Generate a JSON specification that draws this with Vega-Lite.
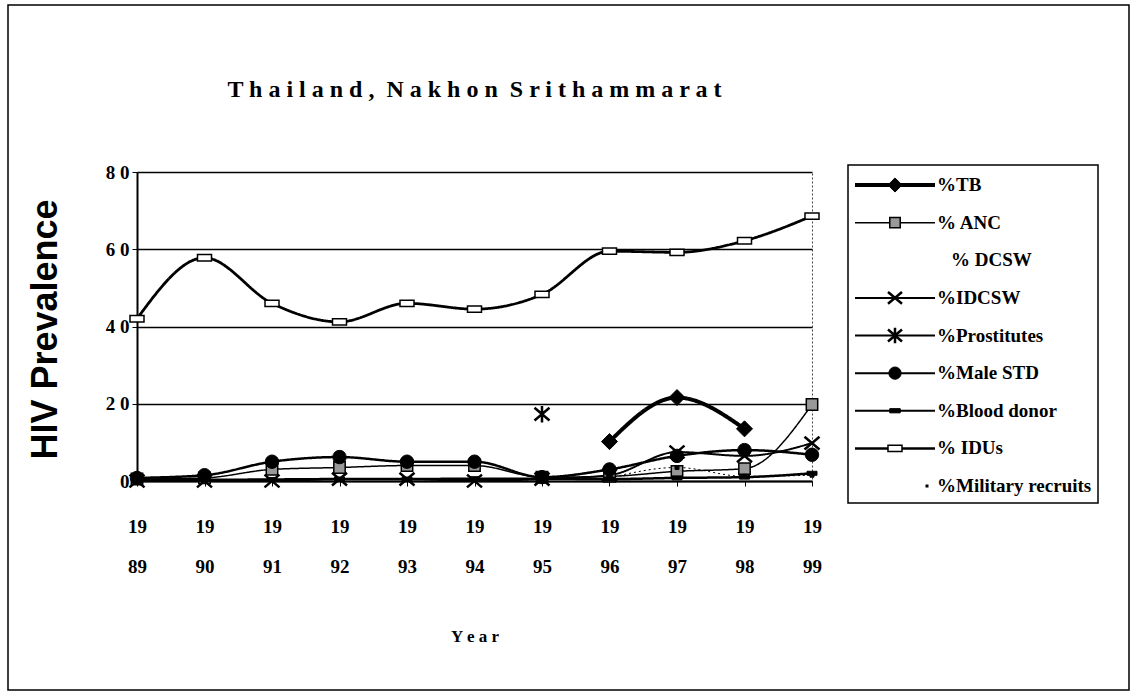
{
  "$schema": "https://vega.github.io/schema/vega-lite/v6.json",
  "width": 675,
  "height": 309,
  "autosize": {"type": "none"},
  "padding": {"left": 137, "top": 172, "right": 319, "bottom": 210},
  "background": "white",
  "config": {
    "view": {"stroke": "#444", "strokeDash": [2, 2], "strokeWidth": 1},
    "font": "Liberation Serif"
  },
  "title": {
    "text": "T h a i l a n d ,\u00a0 N a k h o n\u00a0 S r i t h a m m a r a t",
    "font": "Liberation Serif",
    "fontSize": 24,
    "fontWeight": "bold",
    "color": "black",
    "anchor": "middle",
    "frame": "group",
    "baseline": "alphabetic",
    "offset": -117
  },
  "datasets": {
    "legendRows": [
      {"series": "%TB", "code": "TB", "row": 0},
      {"series": "% ANC", "code": "ANC", "row": 1},
      {"series": "% DCSW", "code": "DCSW", "row": 2},
      {"series": "%IDCSW", "code": "IDCSW", "row": 3},
      {"series": "%Prostitutes", "code": "PROS", "row": 4},
      {"series": "%Male STD", "code": "MSTD", "row": 5},
      {"series": "%Blood donor", "code": "BLOOD", "row": 6},
      {"series": "% IDUs", "code": "IDU", "row": 7},
      {"series": "%Military recruits", "code": "MIL", "row": 8}
    ]
  },
  "data": {
    "values": [
      {"series": "%TB", "code": "TB", "year": 1996, "value": 10.2},
      {"series": "%TB", "code": "TB", "year": 1997, "value": 21.6},
      {"series": "%TB", "code": "TB", "year": 1998, "value": 13.5},
      {"series": "% ANC", "code": "ANC", "year": 1989, "value": 0.5},
      {"series": "% ANC", "code": "ANC", "year": 1990, "value": 0.8},
      {"series": "% ANC", "code": "ANC", "year": 1991, "value": 3.0},
      {"series": "% ANC", "code": "ANC", "year": 1992, "value": 3.5},
      {"series": "% ANC", "code": "ANC", "year": 1993, "value": 4.0},
      {"series": "% ANC", "code": "ANC", "year": 1994, "value": 4.0},
      {"series": "% ANC", "code": "ANC", "year": 1995, "value": 1.0},
      {"series": "% ANC", "code": "ANC", "year": 1996, "value": 1.2},
      {"series": "% ANC", "code": "ANC", "year": 1997, "value": 2.5},
      {"series": "% ANC", "code": "ANC", "year": 1998, "value": 3.2},
      {"series": "% ANC", "code": "ANC", "year": 1999, "value": 19.8},
      {"series": "%IDCSW", "code": "IDCSW", "year": 1989, "value": 0},
      {"series": "%IDCSW", "code": "IDCSW", "year": 1990, "value": 0},
      {"series": "%IDCSW", "code": "IDCSW", "year": 1991, "value": 0},
      {"series": "%IDCSW", "code": "IDCSW", "year": 1992, "value": 0.5},
      {"series": "%IDCSW", "code": "IDCSW", "year": 1993, "value": 0.5},
      {"series": "%IDCSW", "code": "IDCSW", "year": 1994, "value": 0},
      {"series": "%IDCSW", "code": "IDCSW", "year": 1995, "value": 0.5},
      {"series": "%IDCSW", "code": "IDCSW", "year": 1996, "value": 1.5},
      {"series": "%IDCSW", "code": "IDCSW", "year": 1997, "value": 7.5},
      {"series": "%IDCSW", "code": "IDCSW", "year": 1998, "value": 6.5},
      {"series": "%IDCSW", "code": "IDCSW", "year": 1999, "value": 9.8},
      {"series": "%Prostitutes", "code": "PROS", "year": 1995, "value": 17.3},
      {"series": "%Male STD", "code": "MSTD", "year": 1989, "value": 0.8},
      {"series": "%Male STD", "code": "MSTD", "year": 1990, "value": 1.5},
      {"series": "%Male STD", "code": "MSTD", "year": 1991, "value": 5.0},
      {"series": "%Male STD", "code": "MSTD", "year": 1992, "value": 6.2},
      {"series": "%Male STD", "code": "MSTD", "year": 1993, "value": 5.0},
      {"series": "%Male STD", "code": "MSTD", "year": 1994, "value": 5.0},
      {"series": "%Male STD", "code": "MSTD", "year": 1995, "value": 1.0},
      {"series": "%Male STD", "code": "MSTD", "year": 1996, "value": 3.0},
      {"series": "%Male STD", "code": "MSTD", "year": 1997, "value": 6.5},
      {"series": "%Male STD", "code": "MSTD", "year": 1998, "value": 8.0},
      {"series": "%Male STD", "code": "MSTD", "year": 1999, "value": 6.8},
      {"series": "%Blood donor", "code": "BLOOD", "year": 1989, "value": 0.3},
      {"series": "%Blood donor", "code": "BLOOD", "year": 1990, "value": 0.3},
      {"series": "%Blood donor", "code": "BLOOD", "year": 1991, "value": 0.4},
      {"series": "%Blood donor", "code": "BLOOD", "year": 1992, "value": 0.5},
      {"series": "%Blood donor", "code": "BLOOD", "year": 1993, "value": 0.5},
      {"series": "%Blood donor", "code": "BLOOD", "year": 1994, "value": 0.6},
      {"series": "%Blood donor", "code": "BLOOD", "year": 1995, "value": 0.6},
      {"series": "%Blood donor", "code": "BLOOD", "year": 1996, "value": 0.5},
      {"series": "%Blood donor", "code": "BLOOD", "year": 1997, "value": 0.8},
      {"series": "%Blood donor", "code": "BLOOD", "year": 1998, "value": 1.0},
      {"series": "%Blood donor", "code": "BLOOD", "year": 1999, "value": 2.0},
      {"series": "% IDUs", "code": "IDU", "year": 1989, "value": 42.0},
      {"series": "% IDUs", "code": "IDU", "year": 1990, "value": 57.8},
      {"series": "% IDUs", "code": "IDU", "year": 1991, "value": 46.0},
      {"series": "% IDUs", "code": "IDU", "year": 1992, "value": 41.2},
      {"series": "% IDUs", "code": "IDU", "year": 1993, "value": 46.0},
      {"series": "% IDUs", "code": "IDU", "year": 1994, "value": 44.5},
      {"series": "% IDUs", "code": "IDU", "year": 1995, "value": 48.3},
      {"series": "% IDUs", "code": "IDU", "year": 1996, "value": 59.5},
      {"series": "% IDUs", "code": "IDU", "year": 1997, "value": 59.2},
      {"series": "% IDUs", "code": "IDU", "year": 1998, "value": 62.2},
      {"series": "% IDUs", "code": "IDU", "year": 1999, "value": 68.6},
      {"series": "%Military recruits", "code": "MIL", "year": 1996, "value": 0.8},
      {"series": "%Military recruits", "code": "MIL", "year": 1997, "value": 3.5},
      {"series": "%Military recruits", "code": "MIL", "year": 1998, "value": 1.2},
      {"series": "%Military recruits", "code": "MIL", "year": 1999, "value": 1.5}
    ]
  },
  "resolve": {"scale": {"x": "independent", "y": "independent", "strokeWidth": "independent", "size": "independent", "shape": "independent", "fill": "independent", "strokeDash": "independent"}},
  "layer": [
    {
      "mark": {"type": "line", "interpolate": "monotone", "color": "black"},
      "encoding": {
        "x": {
          "field": "year",
          "type": "quantitative",
          "scale": {"domain": [1989, 1999], "nice": false, "zero": false},
          "axis": {
            "values": [1989, 1990, 1991, 1992, 1993, 1994, 1995, 1996, 1997, 1998, 1999],
            "labelExpr": "[substring(toString(datum.value),0,2), substring(toString(datum.value),2,4)]",
            "labelFont": "Liberation Serif",
            "labelFontSize": 19,
            "labelFontWeight": "bold",
            "labelColor": "black",
            "labelLineHeight": 40,
            "labelBaseline": "top",
            "labelPadding": 31,
            "labelFlush": false,
            "labelOverlap": false,
            "tickSize": 5,
            "tickColor": "black",
            "tickWidth": 1,
            "domainColor": "black",
            "domainWidth": 2,
            "grid": false,
            "title": "Y e a r",
            "titleFont": "Liberation Serif",
            "titleFontSize": 17,
            "titleFontWeight": "bold",
            "titleColor": "black",
            "titlePadding": 52
          }
        },
        "y": {
          "field": "value",
          "type": "quantitative",
          "scale": {"domain": [0, 80], "nice": false},
          "axis": {
            "values": [0, 20, 40, 60, 80],
            "labelExpr": "datum.value == 0 ? '0' : toString(datum.value/10) + ' 0'",
            "labelFont": "Liberation Serif",
            "labelFontSize": 19,
            "labelFontWeight": "bold",
            "labelColor": "black",
            "labelPadding": 3,
            "tickSize": 5,
            "tickColor": "black",
            "domainColor": "black",
            "domainWidth": 2,
            "grid": true,
            "gridColor": "black",
            "gridWidth": 1.5,
            "gridOpacity": 1,
            "title": "HIV Prevalence",
            "titleFont": "Liberation Sans",
            "titleFontSize": 36,
            "titleFontWeight": "bold",
            "titleColor": "black",
            "titleX": -92,
            "titleY": 157,
            "titleAngle": -90,
            "titleBaseline": "middle",
            "titleAlign": "center"
          }
        },
        "detail": {"field": "code"},
        "strokeWidth": {
          "field": "code",
          "type": "nominal",
          "scale": {
            "type": "ordinal",
            "domain": ["TB", "ANC", "IDCSW", "PROS", "MSTD", "BLOOD", "IDU", "MIL"],
            "range": [4, 1.5, 2, 2, 2.5, 2.5, 2.8, 1]
          },
          "legend": null
        },
        "strokeDash": {
          "field": "code",
          "type": "nominal",
          "scale": {
            "domain": ["TB", "ANC", "IDCSW", "PROS", "MSTD", "BLOOD", "IDU", "MIL"],
            "range": [[1, 0], [1, 0], [1, 0], [1, 0], [1, 0], [1, 0], [1, 0], [2, 3]]
          },
          "legend": null
        }
      }
    },
    {
      "mark": {"type": "point", "filled": true, "stroke": "black", "opacity": 1},
      "encoding": {
        "x": {"field": "year", "type": "quantitative", "scale": {"domain": [1989, 1999], "nice": false, "zero": false}, "axis": null},
        "y": {"field": "value", "type": "quantitative", "scale": {"domain": [0, 80], "nice": false}, "axis": null},
        "shape": {
          "field": "code",
          "type": "nominal",
          "scale": {
            "domain": ["TB", "ANC", "IDCSW", "PROS", "MSTD", "BLOOD", "IDU", "MIL"],
            "range": ["diamond", "square", "M-1,-0.85L1,0.85M1,-0.85L-1,0.85", "M-1,-0.85L1,0.85M1,-0.85L-1,0.85M0,-1.1V1.1", "circle", "M-1,-0.4H1V0.4H-1Z", "M-1,-0.45H1V0.45H-1Z", "square"]
          },
          "legend": null
        },
        "size": {
          "field": "code",
          "type": "nominal",
          "scale": {
            "type": "ordinal",
            "domain": ["TB", "ANC", "IDCSW", "PROS", "MSTD", "BLOOD", "IDU", "MIL"],
            "range": [256, 130, 225, 225, 180, 100, 196, 16]
          },
          "legend": null
        },
        "fill": {
          "field": "code",
          "type": "nominal",
          "scale": {
            "domain": ["TB", "ANC", "IDCSW", "PROS", "MSTD", "BLOOD", "IDU", "MIL"],
            "range": ["black", "#999999", "transparent", "transparent", "black", "black", "white", "black"]
          },
          "legend": null
        },
        "strokeWidth": {
          "field": "code",
          "type": "nominal",
          "scale": {
            "type": "ordinal",
            "domain": ["TB", "ANC", "IDCSW", "PROS", "MSTD", "BLOOD", "IDU", "MIL"],
            "range": [1, 1.5, 2.5, 2.5, 1, 1, 1.5, 1]
          },
          "legend": null
        }
      }
    },
    {
      "data": {"values": [{"box": "chart frame"}]},
      "mark": {"type": "rect", "filled": false, "stroke": "black", "strokeWidth": 1.5},
      "encoding": {
        "x": {"datum": -129, "type": "quantitative", "scale": {"domain": [0, 675], "nice": false, "zero": false}, "axis": null},
        "x2": {"datum": 992},
        "y": {"datum": -4.784, "type": "quantitative", "scale": {"domain": [-0.3455, 7.867], "reverse": true, "nice": false, "zero": false}, "axis": null},
        "y2": {"datum": 13.422}
      }
    },
    {
      "data": {"values": [{"box": "legend"}]},
      "mark": {"type": "rect", "filled": false, "stroke": "black", "strokeWidth": 1.5},
      "encoding": {
        "x": {"datum": 711, "type": "quantitative", "scale": {"domain": [0, 675], "nice": false, "zero": false}, "axis": null},
        "x2": {"datum": 961},
        "y": {"datum": -0.532, "type": "quantitative", "scale": {"domain": [-0.3455, 7.867], "reverse": true, "nice": false, "zero": false}, "axis": null},
        "y2": {"datum": 8.452}
      }
    },
    {
      "data": {"name": "legendRows"},
      "transform": [{"filter": "datum.code != 'DCSW' && datum.code != 'MIL'"}],
      "mark": {"type": "rule", "color": "black"},
      "encoding": {
        "x": {"datum": 718, "type": "quantitative", "scale": {"domain": [0, 675], "nice": false, "zero": false}, "axis": null},
        "x2": {"datum": 798},
        "y": {"field": "row", "type": "quantitative", "scale": {"domain": [-0.3455, 7.867], "reverse": true, "nice": false, "zero": false}, "axis": null},
        "strokeWidth": {
          "field": "code",
          "type": "nominal",
          "scale": {
            "type": "ordinal",
            "domain": ["TB", "ANC", "IDCSW", "PROS", "MSTD", "BLOOD", "IDU"],
            "range": [4, 1.5, 2, 2, 2, 2, 2.5]
          },
          "legend": null
        }
      }
    },
    {
      "data": {"name": "legendRows"},
      "transform": [{"filter": "datum.code != 'DCSW' && datum.code != 'MIL'"}],
      "mark": {"type": "point", "filled": true, "stroke": "black", "opacity": 1},
      "encoding": {
        "x": {"datum": 758, "type": "quantitative", "scale": {"domain": [0, 675], "nice": false, "zero": false}, "axis": null},
        "y": {"field": "row", "type": "quantitative", "scale": {"domain": [-0.3455, 7.867], "reverse": true, "nice": false, "zero": false}, "axis": null},
        "shape": {
          "field": "code",
          "type": "nominal",
          "scale": {
            "domain": ["TB", "ANC", "IDCSW", "PROS", "MSTD", "BLOOD", "IDU"],
            "range": ["diamond", "square", "M-1,-0.85L1,0.85M1,-0.85L-1,0.85", "M-1,-0.85L1,0.85M1,-0.85L-1,0.85M0,-1.1V1.1", "circle", "M-1,-0.4H1V0.4H-1Z", "M-1,-0.45H1V0.45H-1Z"]
          },
          "legend": null
        },
        "size": {
          "field": "code",
          "type": "nominal",
          "scale": {
            "type": "ordinal",
            "domain": ["TB", "ANC", "IDCSW", "PROS", "MSTD", "BLOOD", "IDU"],
            "range": [200, 110, 196, 196, 150, 110, 196]
          },
          "legend": null
        },
        "fill": {
          "field": "code",
          "type": "nominal",
          "scale": {
            "domain": ["TB", "ANC", "IDCSW", "PROS", "MSTD", "BLOOD", "IDU"],
            "range": ["black", "#999999", "transparent", "transparent", "black", "black", "white"]
          },
          "legend": null
        },
        "strokeWidth": {
          "field": "code",
          "type": "nominal",
          "scale": {
            "type": "ordinal",
            "domain": ["TB", "ANC", "IDCSW", "PROS", "MSTD", "BLOOD", "IDU"],
            "range": [1, 1.5, 2.5, 2.5, 1, 1, 1.5]
          },
          "legend": null
        }
      }
    },
    {
      "data": {"name": "legendRows"},
      "transform": [{"filter": "datum.code == 'MIL'"}],
      "mark": {"type": "square", "color": "black", "size": 9, "opacity": 1},
      "encoding": {
        "x": {"datum": 790, "type": "quantitative", "scale": {"domain": [0, 675], "nice": false, "zero": false}, "axis": null},
        "y": {"field": "row", "type": "quantitative", "scale": {"domain": [-0.3455, 7.867], "reverse": true, "nice": false, "zero": false}, "axis": null}
      }
    },
    {
      "data": {"name": "legendRows"},
      "transform": [{"filter": "datum.code != 'DCSW'"}],
      "mark": {"type": "text", "align": "left", "baseline": "middle", "font": "Liberation Serif", "fontSize": 19, "fontWeight": "bold", "color": "black"},
      "encoding": {
        "x": {"datum": 800, "type": "quantitative", "scale": {"domain": [0, 675], "nice": false, "zero": false}, "axis": null},
        "y": {"field": "row", "type": "quantitative", "scale": {"domain": [-0.3455, 7.867], "reverse": true, "nice": false, "zero": false}, "axis": null},
        "text": {"field": "series"}
      }
    },
    {
      "data": {"name": "legendRows"},
      "transform": [{"filter": "datum.code == 'DCSW'"}],
      "mark": {"type": "text", "align": "left", "baseline": "middle", "font": "Liberation Serif", "fontSize": 19, "fontWeight": "bold", "color": "black"},
      "encoding": {
        "x": {"datum": 814, "type": "quantitative", "scale": {"domain": [0, 675], "nice": false, "zero": false}, "axis": null},
        "y": {"field": "row", "type": "quantitative", "scale": {"domain": [-0.3455, 7.867], "reverse": true, "nice": false, "zero": false}, "axis": null},
        "text": {"field": "series"}
      }
    }
  ]
}
